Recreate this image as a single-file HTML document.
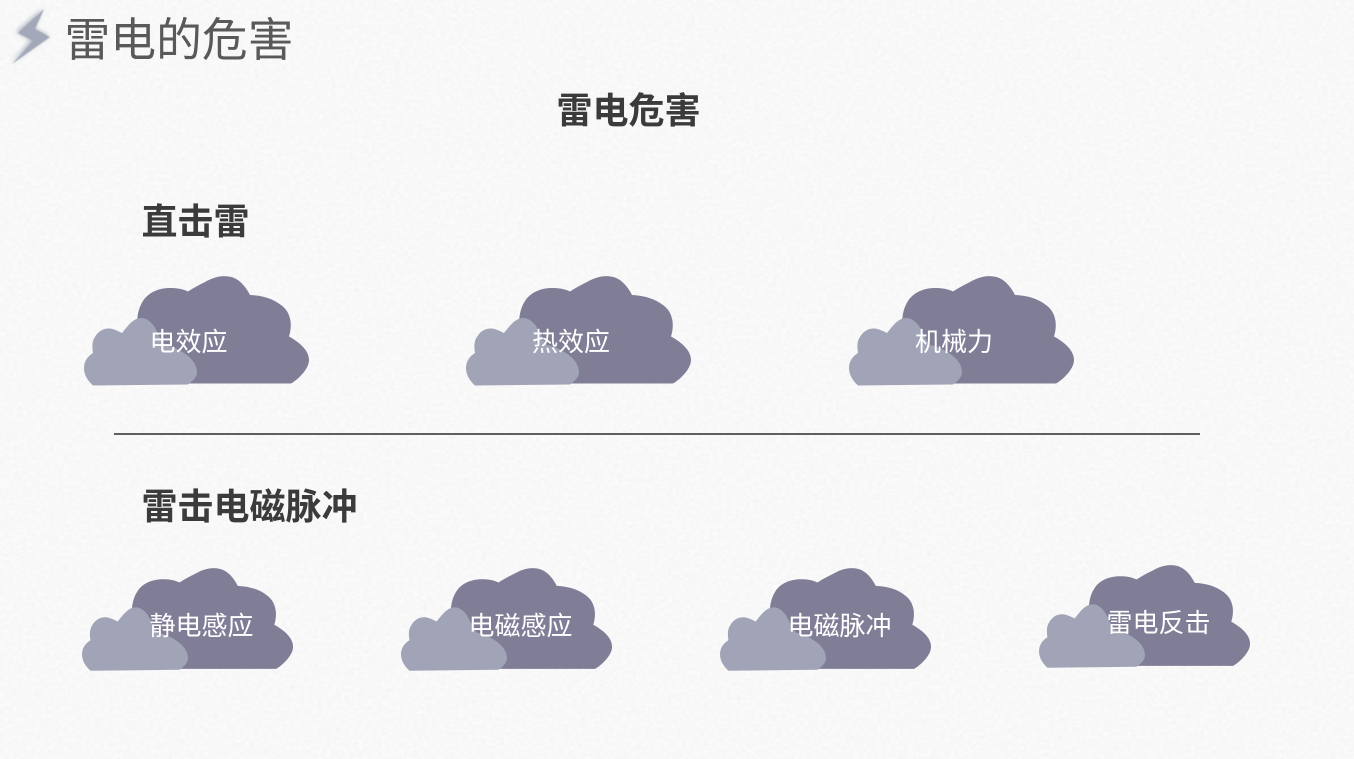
<!DOCTYPE html>
<html lang="zh"><head><meta charset="utf-8"><style>
html,body{margin:0;padding:0;width:1354px;height:759px;overflow:hidden;background:#fafafa}
</style></head><body>
<svg width="1354" height="759" viewBox="0 0 1354 759" xmlns="http://www.w3.org/2000/svg" style="display:block;font-family:'Liberation Sans','Noto Sans CJK SC',sans-serif">
<defs>
<filter id="b" x="-40%" y="-40%" width="180%" height="180%"><feGaussianBlur stdDeviation="2.400"/></filter>
<filter id="s" x="-10%" y="-10%" width="120%" height="120%"><feGaussianBlur stdDeviation="0.500"/></filter>
<filter id="t" x="0" y="0" width="100%" height="100%" color-interpolation-filters="sRGB"><feTurbulence type="fractalNoise" baseFrequency="0.22 0.28" numOctaves="2" seed="4"/><feColorMatrix type="matrix" values="0 0 0 0 0.93  0 0 0 0 0.93  0 0 0 0 0.93  0.5 0.5 0 0 -0.3"/></filter>
<g id="c">
<path fill="#807e97" d="M291,383.500C296,381 309,370 309,360C309,350 299,342 289,336.500C291,330 291,325 290.500,321C289,312 285,308 281,305C272,298 261,295.500 250,295C246,287 240,280 233,277.500C222,274 212,278 205,282C199,285 193,288 188,291.500C182,288.500 176,288 170,288C158,288 148,293 143,301C139,307 137.500,314 137,322L150,383.500Z"/>
<path fill="#a0a4b6" d="M93,385.500C88,381 84,375 84,368C84,361 88,356 93,353C92,347 92,341 95,337C98,331 104,328 110,328.500C114,329 118,331 122,333C127,327 133,318 141,318C147,318 151,322 154,326C158,333 161,340 165,345C171,346 178,349 184,353C192,358 197,365 197,372C197,377 193,381 188,384.500Z"/>
</g>
</defs>
<rect width="1354" height="759" fill="#fbfbfb"/>
<rect width="1354" height="759" filter="url(#t)"/>
<polygon points="44,9 17,33 32,41 12,64 50,37 35,29" fill="#9097aa" opacity=".7" filter="url(#b)" transform="translate(-1,-1)"/>
<polygon points="44,9 18,33 33,41 12,64 50,37 35,29" fill="#a2a8b8" filter="url(#s)"/>
<text x="64.500" y="56" font-size="45.800" fill="#595959">雷电的危害</text>
<text x="556.500" y="123" font-size="36" font-weight="700" fill="#3b3b3b">雷电危害</text>
<text x="141.500" y="234" font-size="36" font-weight="700" fill="#3b3b3b">直击雷</text>
<text x="141.500" y="519" font-size="36" font-weight="700" fill="#3b3b3b">雷击电磁脉冲</text>
<use href="#c"/>
<use href="#c" x="382"/>
<use href="#c" x="765"/>
<line x1="114" y1="434" x2="1200" y2="434" stroke="#5f5f5f" stroke-width="2"/>
<use href="#c" transform="translate(82,568) scale(.938) translate(-84,-276)"/>
<use href="#c" transform="translate(401,568) scale(.938) translate(-84,-276)"/>
<use href="#c" transform="translate(720,568) scale(.938) translate(-84,-276)"/>
<use href="#c" transform="translate(1039,565) scale(.938) translate(-84,-276)"/>
<g font-size="26" fill="#ffffff">
<text x="149.500" y="351">电效应</text>
<text x="532" y="351">热效应</text>
<text x="915" y="351">机械力</text>
<text x="149.500" y="635">静电感应</text>
<text x="468.500" y="635">电磁感应</text>
<text x="787.500" y="635">电磁脉冲</text>
<text x="1106.500" y="632">雷电反击</text>
</g>
</svg>
</body></html>
